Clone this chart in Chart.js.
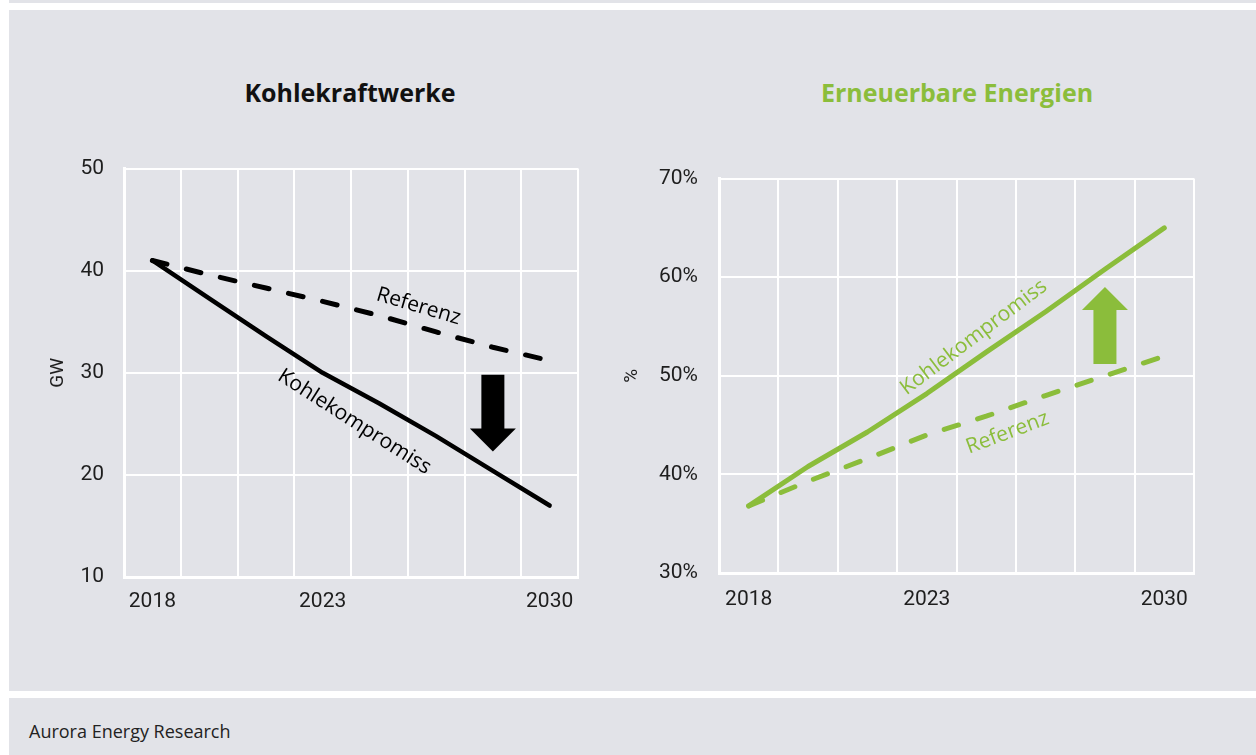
<!DOCTYPE html>
<html>
<head>
<meta charset="utf-8">
<script src="https://cdn.jsdelivr.net/npm/chart.js@4.4.1/dist/chart.umd.min.js"></script>
<style>
  body { margin: 0; width: 1256px; height: 755px; background: #fff; position: relative; overflow: hidden; font-family: Roboto, sans-serif; }
  .bg { position: absolute; left: 9px; width: 1247px; background: #e2e3e8; }
  .title { position: absolute; top: 74px; width: 400px; text-align: center; font: bold 25px "Open Sans", sans-serif; line-height: 36px; }
  .footer { position: absolute; left: 29px; top: 719px; font: 18px "Open Sans", sans-serif; color: #222; }
  canvas { position: absolute; }
</style>
</head>
<body>
<div class="bg" style="top:0;height:3px"></div>
<div class="bg" style="top:10px;height:681px"></div>
<div class="bg" style="top:698px;height:57px"></div>

<div class="title" style="left:150px;color:#111">Kohlekraftwerke</div>
<div class="title" style="left:757px;color:#8bbd3b">Erneuerbare Energien</div>
<div class="footer">Aurora Energy Research</div>

<canvas id="coal" width="560" height="494" style="left:40px;top:136px"></canvas>
<canvas id="res" width="600" height="485" style="left:620px;top:145px"></canvas>

<script>
// categories (only some years are labelled)
const years = ['2018', '', '', '2023', '', '', '', '2030'];

// coal capacity in GW
const coalCompromise = [41, 37.3, 33.6, 30, 27.0, 23.8, 20.4, 17];
const coalReference = [41, 39.6, 38.3, 37.0, 35.6, 34.0, 32.5, 31.2];
const gwTicks = [10, 20, 30, 40, 50];

// renewable share in %
const resCompromise = [36.8, 40.8, 44.3, 48.2, 52.4, 56.5, 60.8, 65.0];
const resReference = [36.8, 39.3, 41.6, 44.0, 45.9, 48.0, 50.0, 52.0];
const pctTicks = [30, 40, 50, 60, 70];

const GREEN = '#8bbd3b';
const BG_WHITE = '#ffffff';
const tickFont = { family: 'Roboto', size: 21 };

// in-chart line labels and the arrow between the scenarios
const notesPlugin = {
  id: 'notes',
  afterDatasetsDraw(chart, args, opts) {
    const { ctx, scales: { x, y } } = chart;
    ctx.save();
    ctx.fillStyle = opts.color;
    ctx.font = '21px "Open Sans"';
    ctx.textAlign = 'center';
    ctx.textBaseline = 'middle';
    opts.labels.forEach(l => {
      ctx.save();
      ctx.translate(x.getPixelForValue(l.at), y.getPixelForValue(l.value));
      ctx.rotate(l.angle * Math.PI / 180);
      ctx.fillText(l.text, 0, 0);
      ctx.restore();
    });

    const a = opts.arrow;
    const ax = x.getPixelForValue(a.at);
    const y0 = y.getPixelForValue(a.from);
    const y1 = y.getPixelForValue(a.to);
    const dir = Math.sign(y1 - y0);
    const head = 23, shaft = 23, wing = 46;
    ctx.beginPath();
    ctx.moveTo(ax - shaft / 2, y0);
    ctx.lineTo(ax + shaft / 2, y0);
    ctx.lineTo(ax + shaft / 2, y1 - dir * head);
    ctx.lineTo(ax + wing / 2, y1 - dir * head);
    ctx.lineTo(ax, y1);
    ctx.lineTo(ax - wing / 2, y1 - dir * head);
    ctx.lineTo(ax - shaft / 2, y1 - dir * head);
    ctx.closePath();
    ctx.fill();
    ctx.restore();
  }
};

function makeChart(id, opt) {
  return new Chart(document.getElementById(id), {
    type: 'line',
    data: {
      labels: years,
      datasets: [
        {
          data: opt.solid,
          borderColor: opt.color,
          borderWidth: opt.solidWidth,
          pointRadius: 0,
          borderCapStyle: 'round',
          borderJoinStyle: 'round'
        },
        {
          data: opt.dashed,
          borderColor: opt.color,
          borderWidth: 5,
          borderDash: [15, 20],
          borderCapStyle: 'round',
          pointRadius: 0
        }
      ]
    },
    options: {
      responsive: false,
      animation: false,
      layout: { padding: opt.padding },
      plugins: {
        legend: { display: false },
        tooltip: { enabled: false },
        notes: { color: opt.color, labels: opt.labels, arrow: opt.arrow }
      },
      scales: {
        x: {
          offset: true,
          grid: { color: BG_WHITE, lineWidth: 2, offset: true, drawTicks: false },
          border: { color: BG_WHITE, width: 3 },
          ticks: { autoSkip: false, maxRotation: 0, padding: opt.xPad, font: tickFont, color: '#1e1e1e' },
          afterFit: s => { s.height = opt.xHeight; }
        },
        y: {
          min: opt.ticks[0],
          max: opt.ticks[opt.ticks.length - 1],
          grid: { color: BG_WHITE, lineWidth: 2, drawTicks: false },
          border: { color: BG_WHITE, width: 3 },
          ticks: {
            stepSize: opt.ticks[1] - opt.ticks[0],
            padding: opt.yPad,
            font: tickFont,
            color: '#1e1e1e',
            callback: v => v + opt.suffix
          },
          title: {
            display: true,
            text: opt.unit,
            font: { family: 'Roboto', size: 19 },
            color: '#1e1e1e',
            padding: { top: opt.titlePad, bottom: 0 }
          },
          afterFit: s => { s.width = opt.yWidth; }
        }
      }
    },
    plugins: [notesPlugin]
  });
}

makeChart('coal', {
  solid: coalCompromise,
  dashed: coalReference,
  ticks: gwTicks,
  suffix: '',
  unit: 'GW',
  color: '#000000',
  solidWidth: 4.5,
  padding: { top: 0, right: 22, left: 0, bottom: 0 },
  yWidth: 84, xHeight: 53, xPad: 12, yPad: 20, titlePad: 7,
  labels: [
    { text: 'Referenz', at: 4.69, value: 36.5, angle: 16.4 },
    { text: 'Kohlekompromiss', at: 3.56, value: 25.2, angle: 32.5 }
  ],
  arrow: { at: 6, from: 29.8, to: 22.3 }
});

makeChart('res', {
  solid: resCompromise,
  dashed: resReference,
  ticks: pctTicks,
  suffix: '%',
  unit: '%',
  color: GREEN,
  solidWidth: 5,
  padding: { top: 0, right: 26, left: 0, bottom: 0 },
  yWidth: 99, xHeight: 57, xPad: 14, yPad: 21, titlePad: 1,
  labels: [
    { text: 'Kohlekompromiss', at: 3.79, value: 53.9, angle: -37 },
    { text: 'Referenz', at: 4.36, value: 44.2, angle: -20.5 }
  ],
  arrow: { at: 6, from: 51.2, to: 59.0 }
});
</script>
</body>
</html>
